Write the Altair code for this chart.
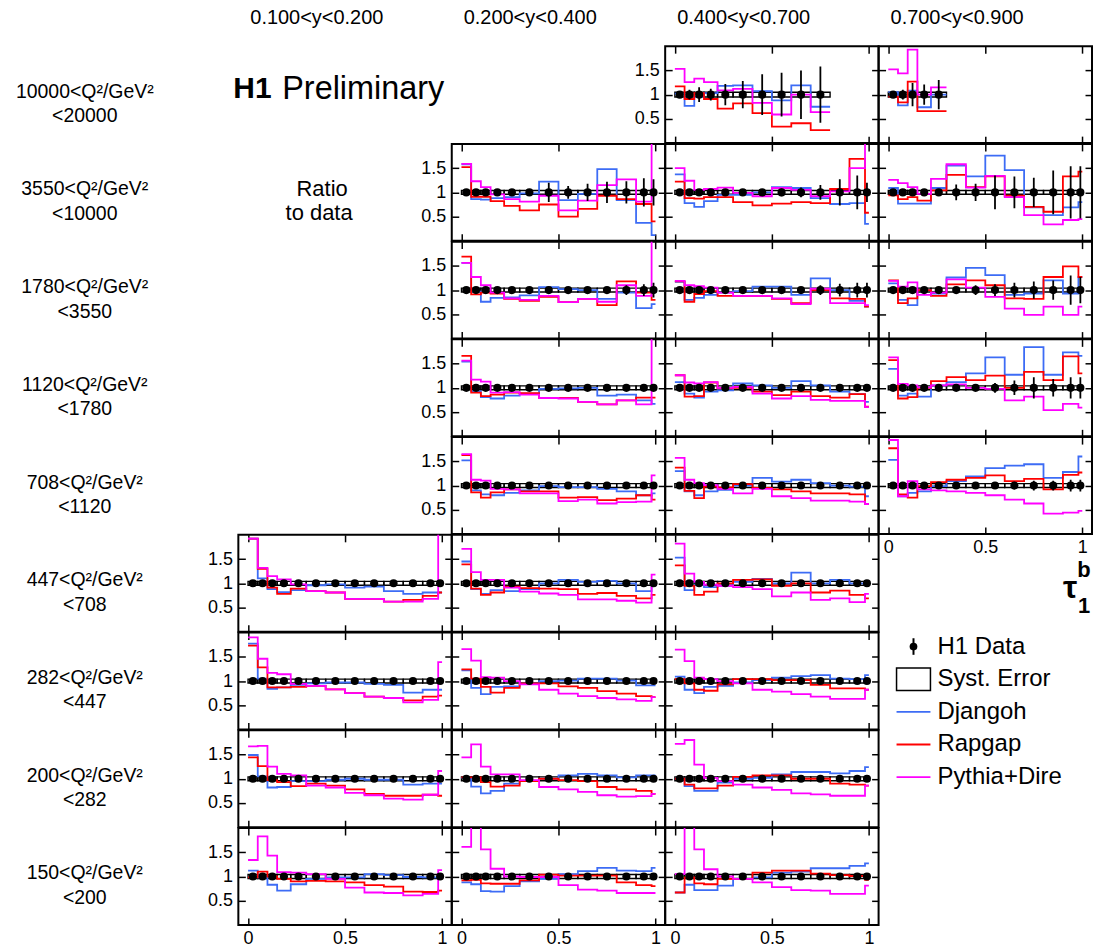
import altair as alt
import pandas as pd

# ---------------- data ----------------
EDGES = [0, 0.05, 0.1, 0.15, 0.22, 0.3, 0.4, 0.5, 0.6, 0.7, 0.8, 0.9, 0.98, 1.0]
Y_BINS = ["0.100<y<0.200", "0.200<y<0.400", "0.400<y<0.700", "0.700<y<0.900"]
Q2_LOW = ["10000", "3550", "1780", "1120", "708", "447", "282", "200", "150"]
Q2_HIGH = ["20000", "10000", "3550", "1780", "1120", "708", "447", "282", "200"]
MODELS = ["Djangoh", "Rapgap", "Pythia+Dire"]
COLORS = ["#3d6cf5", "#ff0000", "#ff00ff"]
LEGEND_LABELS = ["H1 Data", "Syst. Error", "Djangoh", "Rapgap", "Pythia+Dire"]

# panels present: column (y bin) -> list of Q2 rows
PANEL_ROWS = {0: [5, 6, 7, 8], 1: [1, 2, 3, 4, 5, 6, 7, 8], 2: [0, 1, 2, 3, 4, 5, 6, 7, 8], 3: [0, 1, 2, 3, 4]}

DJANGOH = {
    (0, 2): [1.02, 0.77, 0.95, 1.03, 1.18, 1.19, 1.07, 0.88, 1.19, 0.75],
    (0, 3): [1.05, 0.78, 1.08, 0.74, 1.0],
    (1, 1): [1.58, 0.86, 0.85, 0.88, 0.9, 0.98, 1.22, 0.84, 0.97, 1.48, 0.84, 0.37, 0.12],
    (1, 2): [1.37, 0.78, 0.7, 0.82, 0.95, 0.95, 1.0, 1.11, 1.09, 0.88, 0.76, 0.78, 0.35],
    (1, 3): [1.09, 0.77, 0.77, 0.77, 1.09, 1.55, 1.33, 1.76, 1.46, 0.69, 0.53, 0.69, 0.8],
    (2, 1): [1.56, 0.97, 0.76, 0.84, 0.85, 0.89, 1.06, 1.02, 1.0, 0.82, 0.95, 0.63, 0.71],
    (2, 2): [1.17, 0.8, 0.84, 0.9, 0.95, 0.98, 1.07, 1.07, 0.9, 1.24, 1.0, 0.78, 0.66],
    (2, 3): [1.14, 0.8, 0.69, 1.0, 0.93, 1.26, 1.46, 1.31, 0.9, 0.93, 1.2, 0.93, 1.27],
    (3, 1): [1.54, 0.93, 0.81, 0.78, 0.84, 0.88, 0.98, 0.99, 1.0, 0.84, 0.86, 0.74, 0.67],
    (3, 2): [1.12, 0.88, 0.8, 0.92, 0.95, 1.09, 1.05, 1.0, 1.14, 1.05, 0.92, 0.87, 0.71],
    (3, 3): [1.39, 0.84, 0.88, 0.82, 1.05, 1.12, 1.3, 1.63, 1.27, 1.84, 1.27, 1.73, 1.66],
    (4, 1): [1.52, 0.9, 0.82, 0.8, 0.85, 0.9, 0.99, 0.97, 0.97, 0.93, 0.88, 0.8, 0.84],
    (4, 2): [1.3, 0.88, 0.8, 0.88, 0.91, 1.0, 1.16, 1.08, 1.12, 1.05, 1.0, 0.98, 0.78],
    (4, 3): [1.53, 0.78, 0.85, 0.88, 0.99, 1.09, 1.19, 1.36, 1.41, 1.44, 1.16, 1.28, 1.6],
    (5, 0): [1.92, 1.1, 0.88, 0.82, 0.86, 0.96, 0.98, 0.91, 0.93, 0.84, 0.78, 0.81, 0.81],
    (5, 1): [1.45, 0.88, 0.78, 0.86, 0.84, 0.88, 1.0, 1.07, 1.03, 1.05, 1.0, 0.84, 0.95],
    (5, 2): [1.53, 0.86, 0.97, 0.92, 0.95, 1.03, 1.09, 1.0, 1.22, 1.0, 1.07, 1.0, 0.97],
    (6, 0): [1.77, 1.05, 0.84, 0.87, 0.92, 0.95, 0.97, 0.97, 0.94, 0.92, 0.76, 0.82, 0.82],
    (6, 1): [1.22, 0.86, 0.73, 0.88, 0.89, 0.95, 1.0, 1.01, 1.05, 1.05, 1.01, 0.91, 0.91],
    (6, 2): [1.09, 0.82, 0.75, 0.88, 0.9, 0.97, 1.02, 1.07, 1.1, 1.12, 1.05, 1.04, 1.12],
    (7, 0): [1.49, 1.05, 0.82, 0.83, 0.95, 0.95, 0.98, 1.0, 0.98, 0.98, 0.88, 0.9, 0.9],
    (7, 1): [1.02, 0.84, 0.7, 0.75, 0.9, 0.95, 1.0, 1.07, 1.1, 1.07, 1.03, 1.07, 1.07],
    (7, 2): [1.0, 0.85, 0.75, 0.75, 0.92, 1.0, 1.02, 1.09, 1.14, 1.14, 1.11, 1.16, 1.24],
    (8, 0): [1.12, 0.98, 0.83, 0.71, 0.84, 0.95, 0.98, 0.98, 1.05, 1.03, 0.99, 0.98, 0.98],
    (8, 1): [0.88, 0.84, 0.7, 0.69, 0.8, 0.9, 0.95, 1.05, 1.11, 1.18, 1.12, 1.11, 1.18],
    (8, 2): [0.67, 0.83, 0.72, 0.72, 0.81, 0.95, 0.98, 1.08, 1.1, 1.17, 1.17, 1.22, 1.27],
}

RAPGAP = {
    (0, 2): [1.17, 0.91, 1.03, 0.91, 0.71, 0.82, 0.62, 0.34, 0.41, 0.27],
    (0, 3): [0.96, 0.84, 1.27, 0.66, 0.66],
    (1, 1): [1.52, 0.91, 0.91, 0.82, 0.72, 0.63, 0.75, 0.5, 0.66, 0.93, 0.86, 0.76, 0.4],
    (1, 2): [1.22, 0.88, 0.87, 0.9, 0.9, 0.8, 0.73, 0.77, 0.8, 0.78, 1.07, 1.69, 0.58],
    (1, 3): [0.94, 0.86, 0.9, 0.83, 1.04, 1.36, 1.11, 1.33, 0.93, 0.7, 0.6, 1.33, 1.43],
    (2, 1): [1.69, 0.91, 0.95, 0.93, 0.82, 0.78, 0.86, 0.75, 0.82, 0.69, 1.18, 0.95, 0.8],
    (2, 2): [1.18, 0.76, 0.92, 0.98, 0.88, 0.88, 0.88, 0.82, 0.73, 1.0, 0.83, 0.82, 0.66],
    (2, 3): [1.2, 0.73, 0.83, 1.0, 0.88, 1.12, 1.2, 1.1, 0.83, 0.82, 1.27, 1.49, 1.27],
    (3, 1): [1.66, 0.9, 0.83, 0.86, 0.9, 0.89, 0.79, 0.79, 0.71, 0.66, 0.74, 0.8, 0.8],
    (3, 2): [1.26, 0.82, 0.83, 1.11, 0.99, 1.0, 0.92, 0.85, 0.92, 0.83, 0.8, 0.87, 0.61],
    (3, 3): [1.57, 0.78, 0.81, 1.0, 1.14, 1.22, 1.16, 1.25, 1.0, 1.33, 1.16, 1.65, 1.3],
    (4, 1): [1.63, 0.86, 0.75, 0.86, 0.92, 0.88, 0.88, 0.75, 0.76, 0.7, 0.73, 0.8, 0.71],
    (4, 2): [1.37, 0.89, 0.74, 0.98, 0.96, 1.03, 0.95, 0.92, 0.88, 0.84, 0.84, 0.82, 0.62],
    (4, 3): [1.77, 0.82, 0.75, 0.99, 1.07, 1.12, 1.16, 1.21, 1.09, 1.14, 0.92, 1.22, 1.27],
    (5, 0): [1.92, 1.3, 0.91, 0.78, 0.89, 0.84, 0.81, 0.68, 0.68, 0.62, 0.66, 0.74, 0.81],
    (5, 1): [1.39, 0.89, 0.76, 0.81, 0.93, 0.9, 0.89, 0.88, 0.78, 0.8, 0.74, 0.69, 0.76],
    (5, 2): [1.37, 0.95, 0.76, 0.83, 1.0, 1.07, 1.08, 0.95, 1.0, 0.81, 0.85, 0.76, 0.69],
    (6, 0): [1.73, 1.28, 0.87, 0.87, 0.88, 0.9, 0.83, 0.75, 0.68, 0.65, 0.6, 0.68, 0.7],
    (6, 1): [1.24, 1.05, 0.88, 0.76, 0.86, 0.95, 0.95, 0.89, 0.86, 0.79, 0.74, 0.69, 0.67],
    (6, 2): [1.04, 0.95, 0.82, 0.8, 0.93, 1.04, 1.04, 1.02, 1.02, 0.92, 0.85, 0.85, 0.82],
    (7, 0): [1.44, 1.26, 0.97, 0.93, 0.85, 0.9, 0.86, 0.78, 0.69, 0.65, 0.65, 0.67, 0.65],
    (7, 1): [1.03, 1.03, 0.93, 0.84, 0.86, 0.95, 1.0, 0.97, 0.95, 0.83, 0.78, 0.75, 0.69],
    (7, 2): [1.0, 0.88, 0.8, 0.8, 0.86, 1.04, 1.07, 1.07, 1.0, 1.0, 0.9, 0.88, 0.86],
    (8, 0): [0.98, 1.1, 1.0, 0.95, 0.9, 0.91, 0.9, 0.88, 0.82, 0.79, 0.69, 0.68, 0.71],
    (8, 1): [0.92, 0.93, 0.86, 0.85, 0.85, 0.92, 1.04, 1.02, 1.02, 1.02, 0.88, 0.82, 0.8],
    (8, 2): [0.67, 0.98, 0.86, 0.84, 0.95, 0.95, 1.08, 1.12, 1.12, 1.06, 1.03, 1.01, 0.93],
}

PYTHIA = {
    (0, 2): [1.53, 1.26, 1.33, 1.26, 1.09, 1.12, 0.83, 0.59, 1.0, 0.64],
    (0, 3): [1.52, 1.44, 1.93, 1.0, 1.15],
    (1, 1): [1.59, 1.23, 1.11, 0.96, 0.86, 0.81, 0.93, 0.63, 0.83, 1.15, 1.27, 0.81, 2.4],
    (1, 2): [1.5, 1.24, 1.05, 1.07, 1.1, 0.99, 0.92, 1.09, 1.05, 0.92, 1.02, 1.5, 2.4],
    (1, 3): [1.26, 1.19, 1.11, 0.97, 1.28, 1.58, 1.1, 1.34, 0.9, 0.53, 0.34, 0.43, 0.45],
    (2, 1): [1.56, 1.27, 1.1, 0.95, 0.83, 0.8, 0.88, 0.75, 0.82, 0.76, 1.1, 0.88, 2.4],
    (2, 2): [1.19, 1.1, 1.08, 1.05, 0.95, 0.88, 0.88, 0.83, 0.71, 1.03, 0.73, 0.73, 0.69],
    (2, 3): [1.19, 1.07, 1.16, 0.9, 0.95, 1.22, 1.05, 0.86, 0.62, 0.49, 0.66, 0.49, 0.66],
    (3, 1): [1.56, 1.17, 1.13, 0.9, 0.91, 0.86, 0.79, 0.78, 0.71, 0.66, 0.74, 0.66, 2.4],
    (3, 2): [1.26, 1.11, 1.09, 1.12, 1.0, 1.02, 0.88, 0.78, 0.83, 0.75, 0.73, 0.73, 0.6],
    (3, 3): [1.63, 1.08, 1.05, 1.01, 1.05, 1.07, 1.0, 0.98, 0.74, 0.82, 0.54, 0.67, 0.59],
    (4, 1): [1.65, 1.12, 1.1, 0.93, 0.92, 0.84, 0.84, 0.68, 0.71, 0.63, 0.66, 0.67, 1.21],
    (4, 2): [1.57, 1.12, 1.05, 1.01, 0.93, 0.84, 0.93, 0.78, 0.74, 0.69, 0.69, 0.67, 0.62],
    (4, 3): [1.94, 0.78, 1.09, 0.92, 0.9, 0.88, 0.85, 0.8, 0.71, 0.63, 0.42, 0.44, 0.48],
    (5, 0): [1.92, 1.32, 1.15, 1.08, 0.98, 0.84, 0.81, 0.68, 0.68, 0.62, 0.62, 0.68, 2.4],
    (5, 1): [1.71, 1.23, 1.07, 1.07, 0.91, 0.83, 0.79, 0.76, 0.67, 0.67, 0.64, 0.6, 1.18],
    (5, 2): [1.82, 1.2, 1.03, 0.97, 0.95, 0.92, 0.88, 0.73, 0.81, 0.66, 0.69, 0.61, 0.78],
    (6, 0): [1.9, 1.46, 1.17, 1.14, 0.94, 0.9, 0.83, 0.75, 0.68, 0.65, 0.56, 0.61, 1.39],
    (6, 1): [1.66, 1.42, 1.08, 1.07, 1.0, 0.93, 0.82, 0.74, 0.69, 0.65, 0.62, 0.59, 0.67],
    (6, 2): [1.65, 1.41, 1.07, 1.04, 1.0, 0.95, 0.82, 0.78, 0.73, 0.68, 0.63, 0.63, 0.82],
    (7, 0): [1.67, 1.68, 1.25, 1.1, 1.07, 0.86, 0.82, 0.71, 0.66, 0.59, 0.57, 0.67, 1.16],
    (7, 1): [1.44, 1.71, 1.25, 1.09, 1.09, 0.97, 0.83, 0.78, 0.73, 0.66, 0.63, 0.64, 0.69],
    (7, 2): [1.72, 1.8, 1.29, 1.02, 0.95, 0.88, 0.82, 0.77, 0.7, 0.68, 0.65, 0.65, 0.86],
    (8, 0): [1.34, 1.83, 1.43, 1.09, 1.08, 1.05, 0.95, 0.77, 0.67, 0.66, 0.61, 0.64, 1.13],
    (8, 1): [1.61, 2.4, 1.56, 1.16, 1.0, 0.99, 0.99, 0.82, 0.73, 0.71, 0.66, 0.66, 0.66],
    (8, 2): [1.05, 2.4, 1.56, 1.15, 1.0, 0.95, 0.88, 0.78, 0.72, 0.71, 0.64, 0.64, 0.81],
}

# statistical uncertainty (relative) of the data points
STAT = {
    (0, 2): [0.05, 0.1, 0.15, 0.12, 0.22, 0.28, 0.42, 0.45, 0.5, 0.58],
    (0, 3): [0.04, 0.1, 0.24, 0.21, 0.3],
    (1, 1): [0.02, 0.02, 0.03, 0.03, 0.04, 0.05, 0.2, 0.13, 0.18, 0.22, 0.23, 0.29, 0.27],
    (1, 2): [0.02, 0.02, 0.02, 0.02, 0.03, 0.04, 0.05, 0.08, 0.1, 0.15, 0.27, 0.35, 0.2],
    (1, 3): [0.03, 0.03, 0.04, 0.04, 0.07, 0.16, 0.18, 0.35, 0.33, 0.3, 0.45, 0.54, 0.54],
    (2, 1): [0.02, 0.02, 0.02, 0.02, 0.02, 0.03, 0.03, 0.04, 0.06, 0.05, 0.1, 0.12, 0.15],
    (2, 2): [0.02, 0.02, 0.02, 0.02, 0.02, 0.03, 0.03, 0.04, 0.05, 0.1, 0.13, 0.15, 0.15],
    (2, 3): [0.02, 0.02, 0.02, 0.03, 0.03, 0.05, 0.1, 0.12, 0.15, 0.18, 0.2, 0.3, 0.27],
    (3, 1): [0.02, 0.02, 0.02, 0.02, 0.02, 0.02, 0.02, 0.03, 0.03, 0.04, 0.04, 0.06, 0.07],
    (3, 2): [0.02, 0.02, 0.02, 0.02, 0.02, 0.02, 0.02, 0.03, 0.03, 0.03, 0.04, 0.06, 0.06],
    (3, 3): [0.02, 0.02, 0.02, 0.03, 0.03, 0.04, 0.05, 0.1, 0.15, 0.22, 0.18, 0.22, 0.22],
    (4, 1): [0.02, 0.02, 0.02, 0.02, 0.02, 0.02, 0.02, 0.02, 0.03, 0.03, 0.03, 0.04, 0.05],
    (4, 2): [0.02, 0.02, 0.02, 0.02, 0.02, 0.02, 0.02, 0.02, 0.03, 0.03, 0.03, 0.05, 0.05],
    (4, 3): [0.03, 0.03, 0.03, 0.03, 0.03, 0.03, 0.04, 0.06, 0.08, 0.1, 0.1, 0.12, 0.12],
    (5, 0): [0.02, 0.02, 0.02, 0.02, 0.02, 0.02, 0.02, 0.02, 0.02, 0.02, 0.02, 0.03, 0.03],
    (5, 1): [0.02, 0.02, 0.02, 0.02, 0.02, 0.02, 0.02, 0.02, 0.02, 0.02, 0.03, 0.04, 0.05],
    (5, 2): [0.02, 0.02, 0.02, 0.02, 0.02, 0.02, 0.02, 0.02, 0.03, 0.03, 0.04, 0.05, 0.05],
    (6, 0): [0.02, 0.02, 0.02, 0.02, 0.02, 0.02, 0.02, 0.02, 0.02, 0.02, 0.02, 0.03, 0.03],
    (6, 1): [0.02, 0.02, 0.02, 0.02, 0.02, 0.02, 0.02, 0.02, 0.02, 0.02, 0.03, 0.03, 0.04],
    (6, 2): [0.02, 0.02, 0.02, 0.02, 0.02, 0.02, 0.02, 0.02, 0.02, 0.03, 0.03, 0.04, 0.04],
    (7, 0): [0.02, 0.02, 0.02, 0.02, 0.02, 0.02, 0.02, 0.02, 0.02, 0.02, 0.02, 0.03, 0.03],
    (7, 1): [0.02, 0.02, 0.02, 0.02, 0.02, 0.02, 0.02, 0.02, 0.02, 0.02, 0.03, 0.03, 0.03],
    (7, 2): [0.03, 0.02, 0.02, 0.02, 0.02, 0.02, 0.02, 0.02, 0.02, 0.03, 0.03, 0.03, 0.04],
    (8, 0): [0.05, 0.02, 0.02, 0.02, 0.02, 0.02, 0.02, 0.02, 0.02, 0.02, 0.02, 0.03, 0.03],
    (8, 1): [0.03, 0.02, 0.02, 0.02, 0.02, 0.02, 0.02, 0.02, 0.02, 0.02, 0.03, 0.03, 0.03],
    (8, 2): [0.04, 0.02, 0.02, 0.02, 0.02, 0.02, 0.02, 0.02, 0.02, 0.03, 0.03, 0.03, 0.03],
}

# half height of the systematic-error boxes per panel
SYST = {key: (0.05 if key[0] == 0 else 0.04) for key in DJANGOH}

# ---------------- layout constants ----------------
FONT = "Liberation Sans"
W = 214.0
H = 97.2
HEAD = 43.3
LABW = 237.7
XDOM = [-0.05, 1.05]
YDOM = [0, 2]
AXFS = 18


def xaxis(orient, labels):
    return alt.Axis(orient=orient, values=[0, 0.5, 1], format="~g", labels=labels,
                    tickSize=7, tickWidth=1.5, tickColor="black", offset=-7,
                    domain=False, grid=False, title=None, labelFont=FONT,
                    labelFontSize=AXFS, labelColor="black", labelPadding=5,
                    labelFlush=False, labelOverlap=False)


def yaxis(orient, labels):
    return alt.Axis(orient=orient, values=[0.5, 1, 1.5], format="~g", labels=labels,
                    tickSize=7, tickWidth=1.5, tickColor="black", offset=-7,
                    domain=False, grid=False, title=None, labelFont=FONT,
                    labelFontSize=AXFS, labelColor="black", labelPadding=6,
                    labelFlush=False, labelOverlap=False)


def panel(r, c, xlabels, ylabels):
    key = (r, c)
    n = len(DJANGOH[key])
    e = EDGES[:n + 1]
    recs = []
    for m, vals in zip(MODELS, [DJANGOH[key], RAPGAP[key], PYTHIA[key]]):
        for i in range(n):
            recs.append({"model": m, "x": e[i], "v": vals[i], "o": i})
        recs.append({"model": m, "x": e[n], "v": vals[n - 1], "o": n})
    line_df = pd.DataFrame(recs)
    pts = pd.DataFrame({
        "lo": e[:-1], "hi": e[1:],
        "xc": [(a + b) / 2 for a, b in zip(e[:-1], e[1:])],
        "val": [1.0] * n,
        "err": STAT[key],
        "sys": [SYST[key]] * n,
    })
    xs = alt.Scale(domain=XDOM, nice=False, zero=False)
    ys = alt.Scale(domain=YDOM, nice=False, zero=False)

    syst = alt.Chart(pts).transform_calculate(
        slo="1 - datum.sys", shi="1 + datum.sys"
    ).mark_rect(fillOpacity=0, stroke="black", strokeWidth=1.4, clip=True).encode(
        x=alt.X("lo:Q", scale=xs, axis=xaxis("bottom", xlabels)),
        x2="hi:Q",
        y=alt.Y("slo:Q", scale=ys, axis=yaxis("left", ylabels)),
        y2="shi:Q",
    )
    lines = alt.Chart(line_df).mark_line(interpolate="step-after", strokeWidth=1.8, clip=True).encode(
        x=alt.X("x:Q", scale=xs, axis=None),
        y=alt.Y("v:Q", scale=ys, axis=None),
        color=alt.Color("model:N", scale=alt.Scale(domain=MODELS, range=COLORS), legend=None),
        detail="model:N",
        order="o:Q",
    )
    errs = alt.Chart(pts).transform_calculate(
        elo="1 - datum.err", ehi="1 + datum.err"
    ).mark_rule(color="black", strokeWidth=1.8, clip=True).encode(
        x=alt.X("xc:Q", scale=xs, axis=None),
        y=alt.Y("elo:Q", scale=ys, axis=None),
        y2="ehi:Q",
    )
    dots = alt.Chart(pts).mark_circle(color="black", size=66, opacity=1, clip=True).encode(
        x=alt.X("xc:Q", scale=xs, axis=xaxis("top", False)),
        y=alt.Y("val:Q", scale=ys, axis=yaxis("right", False)),
    )
    return alt.layer(syst, lines, errs, dots).resolve_axis(
        x="independent", y="independent"
    ).properties(width=W, height=H, view=alt.ViewBackground(stroke="black", strokeWidth=2))


def blank(w, h):
    return alt.Chart(pd.DataFrame({"t": [" "]})).mark_text(baseline="middle").encode(
        text="t:N", x=alt.value(w / 2), y=alt.value(h / 2)
    ).properties(width=w, height=h)


def text_layer(txt, x, y, size, bold=False, align="center"):
    return alt.Chart(pd.DataFrame({"t": [txt]})).mark_text(
        font=FONT, fontSize=size, fontWeight="bold" if bold else "normal",
        align=align, baseline="middle", color="black"
    ).encode(text="t:N", x=alt.value(x), y=alt.value(y))


def legend_cell():
    leg = pd.DataFrame({"label": LEGEND_LABELS})
    ysc = alt.Y("label:N", scale=alt.Scale(type="point", domain=LEGEND_LABELS, range=[112, 243], padding=0), axis=None)
    txt = alt.Chart(leg).mark_text(font=FONT, fontSize=24, align="left", baseline="middle", color="black").encode(
        text="label:N", x=alt.value(59), y=ysc)
    lns = alt.Chart(leg).transform_filter(
        alt.FieldOneOfPredicate(field="label", oneOf=MODELS)
    ).mark_rule(strokeWidth=1.8).encode(
        x=alt.value(18), x2=alt.value(52), y=ysc,
        color=alt.Color("label:N", scale=alt.Scale(domain=MODELS, range=COLORS), legend=None))
    box = alt.Chart(leg).transform_filter(alt.datum.label == "Syst. Error").mark_point(
        shape="M-1,-0.66H1V0.66H-1Z", size=1156, filled=False, stroke="black", strokeWidth=1.5, opacity=1
    ).encode(x=alt.value(35), y=ysc)
    bar = alt.Chart(leg).transform_filter(alt.datum.label == "H1 Data").mark_point(
        shape="M0,-1V1", size=276, filled=False, stroke="black", strokeWidth=2, opacity=1
    ).encode(x=alt.value(35), y=ysc)
    dot = alt.Chart(leg).transform_filter(alt.datum.label == "H1 Data").mark_circle(
        color="black", size=60, opacity=1
    ).encode(x=alt.value(35), y=ysc)
    tau = text_layer("τ", 192, 53, 32, bold=True)
    sup = text_layer("b", 206, 35, 22, bold=True)
    sub = text_layer("1", 206, 71, 22, bold=True)
    return alt.layer(txt, lns, box, bar, dot, tau, sup, sub).properties(width=W, height=H)


# ---------------- grid of cells (row-major, 5 columns) ----------------
ylab_col = {0: 2, 1: 1, 2: 1, 3: 1, 4: 1, 5: 0, 6: 0, 7: 0, 8: 0}
cells = [blank(LABW, HEAD)]
for c in range(4):
    cells.append(text_layer(Y_BINS[c], 12, 16, 20, align="left").properties(width=W, height=HEAD))

for r in range(9):
    l1 = text_layer(f"{Q2_LOW[r]}<Q²/GeV²", 84, H / 2 - 3, 19.5)
    l2 = text_layer(f"<{Q2_HIGH[r]}", 84, H / 2 + 21.5, 19.5)
    cells.append(alt.layer(l1, l2).properties(width=LABW, height=H))
    for c in range(4):
        rows_here = PANEL_ROWS[c]
        if r in rows_here:
            cells.append(panel(r, c, r == max(rows_here), ylab_col[r] == c))
        elif c == 0 and r == 0:
            cells.append(alt.layer(
                text_layer("H1", -5, 43, 30, bold=True, align="left"),
                text_layer("Preliminary", 44, 43, 32.5, align="left"),
            ).properties(width=W, height=H))
        elif c == 0 and r == 1:
            cells.append(alt.layer(
                text_layer("Ratio", 84, 45, 22),
                text_layer("to data", 81, 69, 22),
            ).properties(width=W, height=H))
        elif c == 3 and r == 5:
            cells.append(legend_cell())
        else:
            cells.append(blank(W, H))

chart = alt.concat(*cells, columns=5, spacing=0, bounds="flush", align="each").properties(
    padding=0
).configure_view(stroke="transparent")

chart.save("out.html", embed_options={"renderer": "svg", "actions": False})
